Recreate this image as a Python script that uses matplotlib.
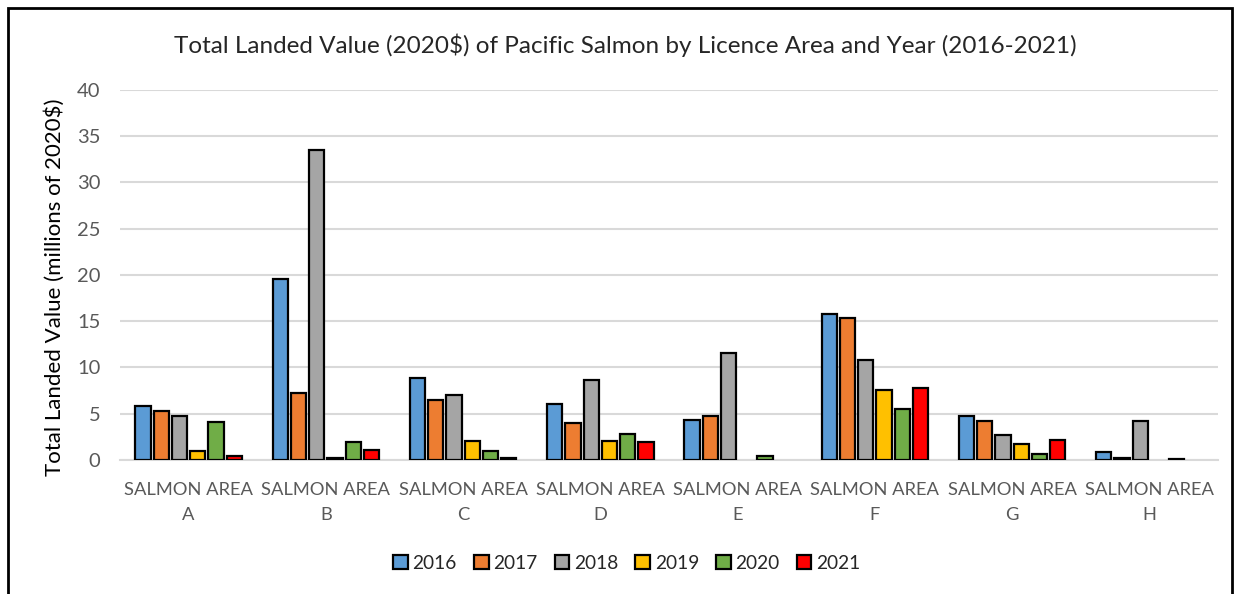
import matplotlib
matplotlib.use('Agg')
import matplotlib.pyplot as plt
import matplotlib.patches as mpatches
import numpy as np

plt.rcParams['font.family'] = ['Lato', 'DejaVu Sans']

areas = ['A', 'B', 'C', 'D', 'E', 'F', 'G', 'H']
years = ['2016', '2017', '2018', '2019', '2020', '2021']
colors = ['#5B9BD5', '#ED7D31', '#A5A5A5', '#FFC000', '#70AD47', '#FF0000']

# millions of 2020$ (0 = no bar)
v2016 = [5.8, 19.6, 8.9, 6.0, 4.3, 15.75, 4.75, 0.9]
v2017 = [5.3, 7.2, 6.5, 4.0, 4.8, 15.4, 4.25, 0.2]
v2018 = [4.8, 33.5, 7.0, 8.65, 11.6, 10.8, 2.7, 4.25]
v2019 = [1.0, 0.2, 2.1, 2.0, 0.0, 7.6, 1.75, 0.0]
v2020 = [4.1, 1.9, 1.0, 2.85, 0.45, 5.55, 0.7, 0.1]
v2021 = [0.45, 1.1, 0.2, 1.9, 0.0, 7.8, 2.2, 0.0]
series = [v2016, v2017, v2018, v2019, v2020, v2021]

fig = plt.figure(figsize=(12.34, 5.94), dpi=100)
ax = fig.add_axes([0.0972, 0.2256, 0.8898, 0.6229])

x = np.arange(len(areas))
step = 0.133
width = 0.112
for i, (vals, col, yr) in enumerate(zip(series, colors, years)):
    offs = (i - 2.5) * step
    vals = np.array(vals)
    mask = vals > 0
    ax.bar(x[mask] + offs, vals[mask], width=width, color=col,
           edgecolor='black', linewidth=1.6, zorder=3, label=yr)

ax.set_xlim(-0.5, len(areas) - 0.5)
ax.set_ylim(0, 40)
ax.set_yticks(range(0, 41, 5))
ax.yaxis.grid(True, color='#D9D9D9', linewidth=1.5, zorder=0)
for s in ['top', 'right', 'left']:
    ax.spines[s].set_visible(False)
ax.spines['bottom'].set_color('#D9D9D9')
ax.spines['bottom'].set_linewidth(1.5)
ax.tick_params(axis='y', length=0, colors='#595959', labelsize=14.5, pad=14)
ax.set_xticks(x)
ax.set_xticklabels(['SALMON AREA\n' + a for a in areas], linespacing=1.65)
ax.tick_params(axis='x', length=0, colors='#595959', labelsize=13.2, pad=16)

ax.set_ylabel('Total Landed Value (millions of 2020$)', fontsize=16,
              color='black')
ax.yaxis.set_label_coords(-0.050, 0.468)
fig.text(0.507, 0.924, 'Total Landed Value (2020$) of Pacific Salmon by Licence Area and Year (2016-2021)',
         ha='center', va='center', fontsize=17.5, color='#262626')

handles = [mpatches.Patch(facecolor=c, edgecolor='black', linewidth=1.6) for c in colors]
fig.legend(handles, years, loc='center', bbox_to_anchor=(0.508, 0.052), ncol=6,
           frameon=False, fontsize=13.8, handlelength=0.75, handleheight=0.75,
           handletextpad=0.25, columnspacing=0.9, labelcolor='#262626')

border = mpatches.Rectangle((8 / 1234, -0.1), 1224 / 1234, 1.1 - 8 / 594,
                            transform=fig.transFigure, fill=False,
                            edgecolor='black', linewidth=2, clip_on=False)
fig.patches.append(border)

fig.savefig('out.png', dpi=100)
